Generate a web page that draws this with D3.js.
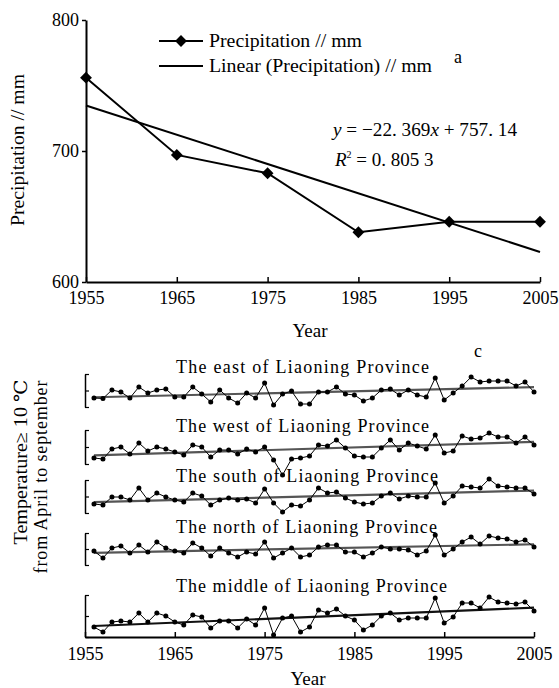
<!DOCTYPE html>
<html>
<head>
<meta charset="utf-8">
<script src="https://cdnjs.cloudflare.com/ajax/libs/d3/7.8.5/d3.min.js"></script>
<style>
  body { margin: 0; background: #fff; }
  text { font-family: "Liberation Serif", "DejaVu Serif", serif; fill: #000; }
  .axis path, .axis line { stroke: #000; }
</style>
</head>
<body>
<div id="chart"></div>
<script>
// ---- panel a: precipitation by decade ----
var precipYears = [1955, 1965, 1975, 1985, 1995, 2005];
var precipValues = [756, 697, 683, 638, 646, 646];
var precipTicks = [600, 700, 800];
var yearTicks = [1955, 1965, 1975, 1985, 1995, 2005];
// fitted line printed on the chart, x = 1..6
var trendSlope = -22.369;
var trendIntercept = 757.14;

// ---- panel c: accumulated temperature >=10 C, April-September ----
// values, relative units (no scale printed)
var tempYears = d3.range(1956, 2006);
var regionNames = ['east', 'west', 'south', 'north', 'middle'];
var eastValues = [9, 8.5, 17, 15, 9, 20, 14, 17, 18, 10,
                  10, 20, 13, 5, 17, 9, 4, 14, 9, 24,
                  2, 13, 16, 3, 3, 15, 15, 20, 13, 12,
                  6, 9, 17, 18, 12, 17, 12, 10, 29, 7,
                  14, 21, 30, 25, 26, 26, 26, 21, 25, 15];
var westValues = [6, 5, 15, 17, 10, 21, 13, 17, 15, 12,
                  9, 19, 17, 7, 14, 14, 10, 15, 12, 17,
                  4, -11, 5, 6, 8, 19, 18, 24, 16, 8,
                  7, 7, 16, 24, 14, 21, 18, 15, 29, 11,
                  13, 28, 25, 26, 31, 27, 27, 21, 27, 19];
var southValues = [9, 8, 16, 16, 13, 25, 13, 20, 16, 13,
                   11, 20, 17, 8, 13, 15, 13, 14, 10, 24,
                   10, 1, 8, 7, 13, 25, 20, 21, 15, 11,
                   9, 10, 17, 20, 14, 17, 16, 16, 30, 10,
                   17, 27, 26, 25, 34, 27, 26, 25, 25, 19];
var northValues = [14, 7, 17, 19, 12, 20, 13, 23, 17, 14,
                   12, 22, 17, 9, 17, 12, 8, 13, 11, 23,
                   7, 12, 17, 8, 10, 18, 20, 20, 13, 13,
                   8, 12, 18, 16, 16, 15, 10, 14, 30, 10,
                   16, 23, 28, 21, 29, 27, 26, 23, 25, 18];
var middleValues = [10, 5, 15, 16, 15, 24, 15, 24, 21, 15,
                    12, 22, 20, 9, 16, 16, 9, 18, 12, 29,
                    2, 19, 21, 5, 10, 27, 24, 28, 21, 17,
                    7, 12, 21, 24, 17, 19, 19, 19, 39, 14,
                    20, 34, 34, 29, 40, 35, 34, 33, 35, 26];
var tempSeries = [eastValues, westValues, southValues, northValues, middleValues];

var svg = d3.select('#chart').append('svg')
  .attr('width', 559)
  .attr('height', 688);

// ================= panel a =================
var xA = d3.scaleLinear().domain([1955, 2005]).range([86, 540]);
var yA = d3.scaleLinear().domain([600, 800]).range([282, 20]);

var axA = svg.append('g').attr('class', 'axis')
  .attr('transform', 'translate(0,282)')
  .call(d3.axisBottom(xA).tickValues(yearTicks).tickFormat(d3.format('d'))
    .tickSize(-5).tickSizeOuter(0).tickPadding(9));
var ayA = svg.append('g').attr('class', 'axis')
  .attr('transform', 'translate(86,0)')
  .call(d3.axisLeft(yA).tickValues(precipTicks).tickSize(4).tickSizeOuter(0).tickPadding(3));
[axA, ayA].forEach(function(g) {
  g.select('.domain').attr('stroke-width', 2);
  g.selectAll('.tick line').attr('stroke-width', 1.5);
  g.selectAll('.tick text').attr('font-size', 18).attr('font-family', '"Liberation Serif", serif')
    .attr('fill', '#000');
});

var lineA = d3.line().x(function(d) { return xA(d[0]); }).y(function(d) { return yA(d[1]); });

var trendPts = [1955, 2005].map(function(yr) {
  return [yr, trendSlope * ((yr - 1955) / 10 + 1) + trendIntercept];
});
svg.append('path').datum(trendPts).attr('d', lineA)
  .attr('fill', 'none').attr('stroke', '#000').attr('stroke-width', 2);

var precipPts = precipYears.map(function(y, i) { return [y, precipValues[i]]; });
svg.append('path').datum(precipPts).attr('d', lineA)
  .attr('fill', 'none').attr('stroke', '#000').attr('stroke-width', 2);

var diamond = d3.symbol().type(d3.symbolSquare).size(70);
svg.selectAll('.dia').data(precipPts).enter().append('path')
  .attr('d', diamond)
  .attr('transform', function(d) { return 'translate(' + xA(d[0]) + ',' + yA(d[1]) + ') rotate(45)'; })
  .attr('fill', '#000');

// legend
svg.append('line').attr('x1', 159).attr('x2', 203).attr('y1', 41).attr('y2', 41)
  .attr('stroke', '#000').attr('stroke-width', 2);
svg.append('path').attr('d', diamond).attr('transform', 'translate(181,41) rotate(45)');
svg.append('line').attr('x1', 159).attr('x2', 203).attr('y1', 66).attr('y2', 66)
  .attr('stroke', '#000').attr('stroke-width', 2);
svg.append('text').attr('x', 209).attr('y', 47).attr('font-size', 19)
  .attr('textLength', 153).attr('lengthAdjust', 'spacingAndGlyphs')
  .text('Precipitation // mm');
svg.append('text').attr('x', 209).attr('y', 72).attr('font-size', 19)
  .attr('textLength', 223).attr('lengthAdjust', 'spacingAndGlyphs')
  .text('Linear (Precipitation) // mm');
svg.append('text').attr('x', 458).attr('y', 63).attr('font-size', 18)
  .attr('text-anchor', 'middle').text('a');

// equation
var eq = svg.append('text').attr('x', 333).attr('y', 136).attr('font-size', 19)
  .attr('textLength', 184).attr('lengthAdjust', 'spacingAndGlyphs');
eq.append('tspan').attr('font-style', 'italic').text('y');
eq.append('tspan').text(' = \u221222. 369');
eq.append('tspan').attr('font-style', 'italic').text('x');
eq.append('tspan').text(' + 757. 14');
var r2 = svg.append('text').attr('x', 335).attr('y', 166).attr('font-size', 19);
r2.append('tspan').attr('font-style', 'italic').text('R');
r2.append('tspan').attr('font-size', 10).attr('dy', -8).text('2');
r2.append('tspan').attr('dy', 8).text(' = 0. 805  3');

// axis titles
svg.append('text').attr('transform', 'translate(17,150) rotate(-90)')
  .attr('text-anchor', 'middle').attr('dominant-baseline', 'central').attr('font-size', 19)
  .attr('textLength', 152).attr('lengthAdjust', 'spacingAndGlyphs')
  .text('Precipitation // mm');
svg.append('text').attr('x', 310).attr('y', 337).attr('text-anchor', 'middle')
  .attr('font-size', 19).text('Year');

// ================= panel c =================
var xC = d3.scaleLinear().domain([1955, 2005]).range([85, 534]);
var bands = [
  { top: 374, bottom: 407, titleY: 373, titleW: 253 },
  { top: 430, bottom: 464, titleY: 432, titleW: 253 },
  { top: 480, bottom: 513, titleY: 482, titleW: 262 },
  { top: 533, bottom: 565, titleY: 533, titleW: 261 },
  { top: 595, bottom: 637, titleY: 592, titleW: 271 }
];

function fit(xs, ys) {
  var mx = d3.mean(xs), my = d3.mean(ys);
  var sxy = d3.sum(xs, function(x, i) { return (x - mx) * (ys[i] - my); });
  var sxx = d3.sum(xs, function(x) { return (x - mx) * (x - mx); });
  var b = sxy / sxx;
  return { b: b, a: my - b * mx };
}

regionNames.forEach(function(name, k) {
  var band = bands[k];
  var vals = tempSeries[k];
  var h = band.bottom - band.top;
  var yC = d3.scaleLinear().domain([0, h]).range([band.bottom, band.top]);

  svg.append('text').attr('x', 176).attr('y', band.titleY).attr('font-size', 18)
    .attr('textLength', band.titleW).attr('lengthAdjust', 'spacing')
    .text('The ' + name + ' of Liaoning Province');

  var ay = svg.append('g').attr('class', 'axis')
    .attr('transform', 'translate(85,0)')
    .call(d3.axisLeft(yC).tickValues([0, h / 2, h]).tickSize(-4).tickSizeOuter(0).tickFormat(''));
  ay.select('.domain').attr('stroke-width', 1.5);
  ay.selectAll('.tick line').attr('stroke-width', 1.2);

  var pts = tempYears.map(function(y, i) { return [y, vals[i]]; });
  var f = fit(tempYears, vals);
  var trend = [tempYears[0], tempYears[tempYears.length - 1]].map(function(y) {
    return [y, f.a + f.b * y];
  });
  var line = d3.line().x(function(d) { return xC(d[0]); }).y(function(d) { return yC(d[1]); });

  svg.append('path').datum(trend).attr('d', line)
    .attr('fill', 'none').attr('stroke', k === 4 ? '#111' : '#555').attr('stroke-width', 2.2);
  svg.append('path').datum(pts).attr('d', line)
    .attr('fill', 'none').attr('stroke', '#000').attr('stroke-width', 1);
  svg.append('g').selectAll('circle').data(pts).enter().append('circle')
    .attr('cx', function(d) { return xC(d[0]); })
    .attr('cy', function(d) { return yC(d[1]); })
    .attr('r', 2.5)
    .attr('fill', '#000');
});

var axC = svg.append('g').attr('class', 'axis')
  .attr('transform', 'translate(0,637)')
  .call(d3.axisBottom(xC).tickValues(yearTicks).tickFormat(d3.format('d'))
    .tickSize(-5).tickSizeOuter(0).tickPadding(10));
axC.select('.domain').attr('stroke-width', 1.8);
axC.selectAll('.tick line').attr('stroke-width', 1.5);
axC.selectAll('.tick text').attr('font-size', 18).attr('font-family', '"Liberation Serif", serif')
  .attr('fill', '#000');

svg.append('text').attr('x', 478).attr('y', 357).attr('font-size', 18)
  .attr('text-anchor', 'middle').text('c');

svg.append('text').attr('transform', 'translate(21,462) rotate(-90)')
  .attr('text-anchor', 'middle').attr('dominant-baseline', 'central').attr('font-size', 18)
  .attr('textLength', 165).attr('lengthAdjust', 'spacingAndGlyphs')
  .text('Temperature\u2265 10 \u2103');
svg.append('text').attr('transform', 'translate(41,477) rotate(-90)')
  .attr('text-anchor', 'middle').attr('dominant-baseline', 'central').attr('font-size', 18)
  .attr('textLength', 193).attr('lengthAdjust', 'spacing')
  .text('from April to september');
svg.append('text').attr('x', 308).attr('y', 685).attr('text-anchor', 'middle')
  .attr('font-size', 19).text('Year');
</script>
</body>
</html>
